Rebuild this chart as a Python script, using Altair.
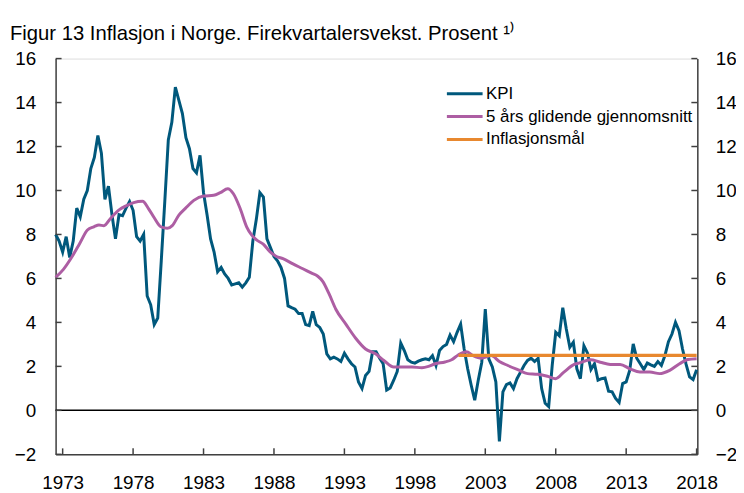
import altair as alt
import pandas as pd

# KPI, four-quarter growth, quarterly from 1972 Q3 (year fraction of first quarter)
kpi_start = 1972.5
kpi = [
    8.0, 7.7, 7.2, 7.9, 6.95, 7.7, 9.2, 8.8, 9.6, 10.0,
    11.0, 11.5, 12.5, 11.7, 9.6, 10.2, 8.9, 7.8, 8.9, 8.85,
    9.2, 9.5, 9.1, 7.9, 7.7, 8.0, 5.2, 4.8, 3.9, 4.2,
    6.8, 9.5, 12.3, 13.1, 14.7, 14.1, 13.5, 12.4, 11.9, 11.0,
    10.8, 11.6, 9.9, 8.9, 7.8, 7.2, 6.3, 6.5, 6.2, 6.0,
    5.7, 5.75, 5.8, 5.6, 5.8, 6.05, 7.7, 8.7, 9.9, 9.7,
    7.8, 7.4, 7.0, 6.8, 6.5, 6.0, 4.75, 4.67, 4.6, 4.4,
    4.4, 3.9, 3.85, 4.5, 3.9, 3.77, 3.47, 2.57, 2.34, 2.42,
    2.34, 2.22, 2.6, 2.34, 2.12, 1.97, 1.29, 0.99, 1.59, 1.77,
    2.67, 2.67, 2.37, 2.12, 0.92, 1.02, 1.37, 1.77, 3.06, 2.72,
    2.3, 2.19, 2.15, 2.24, 2.3, 2.34, 2.3, 2.49, 2.04, 2.72,
    2.9, 3.0, 3.42, 3.12, 3.55, 3.92, 2.79, 1.89, 1.14, 0.46,
    1.37, 2.19, 4.6, 2.34, 1.97, 1.29, -1.41, 0.84, 1.17, 1.25,
    0.99, 1.44, 1.74, 2.04, 2.27, 2.37, 2.22, 2.37, 0.99, 0.32,
    0.17, 2.04, 3.55, 3.39, 4.67, 3.7, 2.87, 3.1, 1.89, 1.44,
    2.94, 2.61, 1.86, 2.12, 1.37, 1.44, 1.47, 0.87, 0.84, 0.54,
    0.36, 1.22, 1.29, 1.82, 3.02, 2.37, 2.12, 1.86, 2.15, 2.07,
    2.0, 2.22, 2.04, 2.49, 3.12, 3.47, 4.0, 3.62, 2.79, 2.1,
    1.52, 1.4, 1.85,
]

# 5-year moving average, read at irregular dates
ma_years = [
    1972.5, 1973.04, 1973.63, 1974.22, 1974.76, 1975.22, 1975.58, 1975.93, 1976.4, 1977.03,
    1977.5, 1978.04, 1978.67, 1979.09, 1979.5, 1979.97, 1980.43, 1980.78, 1981.25, 1981.73,
    1982.31, 1983.01, 1983.72, 1984.19, 1984.72, 1985.12, 1985.6, 1986.06, 1986.41, 1986.76,
    1987.24, 1987.71, 1988.17, 1988.64, 1989.35, 1990.05, 1990.64, 1991.11, 1991.46, 1991.93,
    1992.39, 1993.1, 1993.8, 1994.5, 1995.21, 1995.8, 1996.5, 1997.09, 1997.79, 1998.5,
    1998.97, 1999.43, 2000.14, 2000.61, 2001.08, 2001.66, 2002.13, 2002.72, 2003.42, 2004.0,
    2004.6, 2005.3, 2006.0, 2006.71, 2007.41, 2007.99, 2008.58, 2009.28, 2009.64, 2010.46,
    2011.16, 2011.87, 2012.57, 2013.27, 2013.98, 2014.68, 2015.38, 2016.09, 2016.79, 2017.38,
    2018.0,
]
ma_values = [
    6.05, 6.4, 6.95, 7.6, 8.2, 8.35, 8.43, 8.4, 8.73, 9.13,
    9.3, 9.45, 9.51, 9.18, 8.76, 8.35, 8.28, 8.4, 8.88, 9.2,
    9.55, 9.75, 9.78, 9.9, 10.08, 9.85, 9.18, 8.35, 7.98, 7.75,
    7.56, 7.22, 7.0, 6.9, 6.66, 6.44, 6.25, 6.1, 5.87, 5.27,
    4.6, 3.92, 3.28, 2.79, 2.57, 2.27, 1.97, 1.97, 1.97, 1.94,
    2.0, 2.12, 2.2, 2.3, 2.52, 2.67, 2.49, 2.37, 2.49, 2.22,
    2.04, 1.85, 1.67, 1.64, 1.55, 1.44, 1.74, 2.08, 2.15, 2.3,
    2.19, 2.09, 2.09, 1.89, 1.74, 1.74, 1.67, 1.82, 2.12, 2.31,
    2.35,
]

target_years = [2001.1, 2018.0]
target_values = [2.5, 2.5]

series_names = ["KPI", "5 års glidende gjennomsnitt", "Inflasjonsmål"]
series_colors = ["#00587c", "#ad5ea3", "#e8882f"]

x_ticks = [1973, 1978, 1983, 1988, 1993, 1998, 2003, 2008, 2013, 2018]
y_ticks = [-2, 0, 2, 4, 6, 8, 10, 12, 14, 16]

W, H = 647, 399
FONT = "Liberation Sans"
AXIS_COL = "#404040"
LABEL_SIZE = 19

kpi_df = pd.DataFrame({
    "year": [kpi_start + 0.25 * i for i in range(len(kpi))],
    "value": kpi,
    "series": series_names[0],
})
ma_df = pd.DataFrame({"year": ma_years, "value": ma_values, "series": series_names[1]})
tgt_df = pd.DataFrame({"year": target_years, "value": target_values, "series": series_names[2]})
ytick_df = pd.DataFrame({"value": y_ticks})
xtick_df = pd.DataFrame({"year": x_ticks})
zero_df = pd.DataFrame({"value": [0]})

xscale = alt.Scale(domain=[1972.5, 2018.05], nice=False, zero=False)
yscale = alt.Scale(domain=[-2, 16], nice=False, zero=False)

xaxis = alt.Axis(values=x_ticks, format="d", title=None, ticks=False, labelPadding=19,
                 labelFontSize=LABEL_SIZE, labelColor="black", labelFont=FONT, domainColor=AXIS_COL,
                 domainWidth=1.5, grid=False, labelFlush=False)
yaxis_left = alt.Axis(values=y_ticks, title=None, ticks=False, labelPadding=20, labelFontSize=LABEL_SIZE,
                      labelColor="black", labelFont=FONT, domainColor=AXIS_COL, domainWidth=1.5,
                      grid=False, orient="left")
yaxis_right = alt.Axis(values=y_ticks, title=None, ticks=False, labelPadding=18, labelFontSize=LABEL_SIZE,
                       labelColor="black", labelFont=FONT, domainColor=AXIS_COL, domainWidth=1.5,
                       grid=False, orient="right")

color = alt.Color(
    "series:N",
    scale=alt.Scale(domain=series_names, range=series_colors),
    legend=alt.Legend(title=None, orient="none", legendX=404, legendY=27,
                      symbolType="M-3,0H3", symbolSize=144, symbolStrokeWidth=3,
                      labelFontSize=17, labelFont=FONT, labelColor="black", labelOffset=13,
                      labelLimit=400, rowPadding=5, padding=0),
)

X = alt.X("year:Q", scale=xscale, axis=xaxis)
Y = alt.Y("value:Q", scale=yscale, axis=yaxis_left)

zero = alt.Chart(zero_df).mark_rule(color="black", strokeWidth=1.5).encode(y=Y)
kpi_line = alt.Chart(kpi_df).mark_line(strokeWidth=3).encode(x=X, y=Y, color=color)
ma_line = alt.Chart(ma_df).mark_line(strokeWidth=3, interpolate="monotone").encode(x=X, y=Y, color=color)
tgt_line = alt.Chart(tgt_df).mark_line(strokeWidth=3.5).encode(x=X, y=Y, color=color)
left_ticks = alt.Chart(ytick_df).mark_rule(color=AXIS_COL, strokeWidth=1.5).encode(
    y=Y, x=alt.value(0), x2=alt.value(6))
bottom_ticks = alt.Chart(xtick_df).mark_rule(color=AXIS_COL, strokeWidth=1.5).encode(
    x=X, y=alt.value(H), y2=alt.value(H - 6))

inner = alt.layer(zero, kpi_line, ma_line, tgt_line, left_ticks, bottom_ticks)

right_ticks = alt.Chart(ytick_df).mark_rule(color=AXIS_COL, strokeWidth=1.5).encode(
    y=alt.Y("value:Q", scale=yscale, axis=yaxis_right), x=alt.value(W - 6), x2=alt.value(W))

chart = alt.layer(inner, right_ticks).resolve_scale(y="independent").properties(
    width=W, height=H,
    padding={"left": 48, "top": 49, "right": 39, "bottom": 36},
    autosize=alt.AutoSizeParams(type="none"),
    title=alt.Title("Figur 13 Inflasjon i Norge. Firekvartalersvekst. Prosent \u00b9\u207e",
                    anchor="start", frame="group", dx=-46, dy=23, offset=12, fontSize=20.4,
                    font=FONT, fontWeight="normal", color="black", baseline="alphabetic"),
).configure_view(stroke="#808080", strokeWidth=1.5).configure(font=FONT)

chart.save("out.html", embed_options={"renderer": "svg", "actions": False})
